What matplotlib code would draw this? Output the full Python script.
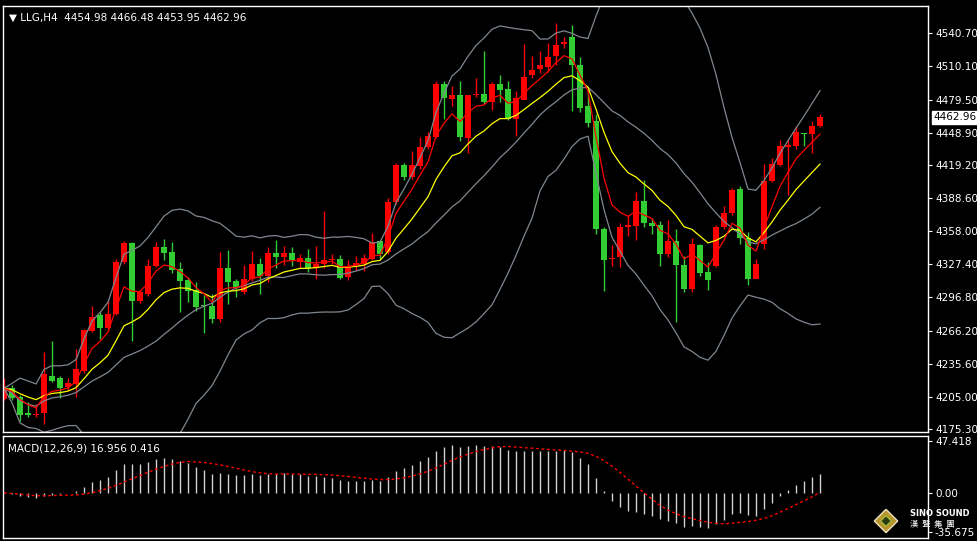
import numpy as np
import pandas as pd
import matplotlib
matplotlib.use("Agg")
import matplotlib.pyplot as plt
from matplotlib.patches import Polygon

# Свечи LLG H4: open, high, low, close
opens = [4203, 4213, 4205, 4190, 4188, 4190, 4224, 4222, 4214, 4217,
         4229, 4266, 4281, 4269, 4282, 4330, 4347, 4294, 4300, 4326,
         4343, 4339, 4323, 4313, 4304, 4290, 4289, 4277, 4324, 4312,
         4302, 4314, 4328, 4317, 4338, 4334, 4338, 4330, 4333, 4324,
         4328, 4331, 4332, 4316, 4327, 4328, 4332, 4349, 4339, 4385,
         4419, 4408, 4418, 4436, 4445, 4494, 4480, 4484, 4444, 4484,
         4485, 4477, 4494, 4489, 4462, 4479, 4502, 4508, 4510, 4520,
         4531, 4537, 4511, 4474, 4460, 4360, 4332, 4334, 4362, 4363,
         4386, 4366, 4364, 4337, 4349, 4327, 4305, 4345, 4320, 4326,
         4362, 4375, 4397, 4352, 4314, 4346, 4404, 4419, 4436, 4437,
         4449, 4448, 4454.98]
closes = [4213, 4204, 4188, 4188, 4189, 4226, 4220, 4213, 4218, 4231,
          4267, 4279, 4269, 4282, 4330, 4347, 4294, 4302, 4326, 4343,
          4338, 4322, 4312, 4303, 4288, 4289, 4277, 4324, 4311, 4306,
          4314, 4328, 4317, 4338, 4334, 4338, 4331, 4333, 4324, 4328,
          4331, 4332, 4315, 4326, 4329, 4333, 4348, 4337, 4385, 4419,
          4408, 4419, 4436, 4446, 4494, 4481, 4484, 4445, 4484, 4485,
          4477, 4494, 4488, 4462, 4481, 4500, 4507, 4511, 4519, 4530,
          4533, 4511, 4472, 4458, 4360, 4331, 4333, 4362, 4364, 4386,
          4366, 4363, 4337, 4349, 4327, 4305, 4346, 4319, 4313, 4362,
          4375, 4396, 4352, 4314, 4328, 4404, 4420, 4437, 4438, 4450,
          4448, 4455, 4462.96]
highs = [4222, 4216, 4207, 4200, 4198, 4246, 4257, 4224, 4222, 4249,
         4268, 4289, 4283, 4294, 4332, 4349, 4348, 4304, 4332, 4348,
         4351, 4348, 4330, 4316, 4311, 4299, 4300, 4339, 4341, 4314,
         4327, 4340, 4333, 4343, 4350, 4344, 4343, 4337, 4342, 4344,
         4377, 4337, 4336, 4331, 4335, 4337, 4356, 4350, 4389, 4421,
         4421, 4432, 4445, 4450, 4497, 4497, 4492, 4497, 4484, 4499,
         4524, 4496, 4502, 4497, 4487, 4531, 4520, 4524, 4532, 4550,
         4537, 4548, 4519, 4489, 4466, 4362, 4345, 4366, 4373, 4394,
         4405, 4370, 4367, 4368, 4360, 4335, 4352, 4346, 4330, 4364,
         4381, 4398, 4400, 4357, 4332, 4420, 4426, 4442, 4442, 4455,
         4449, 4460, 4466.48]
lows = [4202, 4202, 4183, 4186, 4186, 4180, 4219, 4204, 4211, 4205,
        4227, 4265, 4258, 4266, 4281, 4328, 4257, 4292, 4298, 4325,
        4331, 4319, 4283, 4293, 4284, 4264, 4273, 4274, 4291, 4297,
        4300, 4312, 4300, 4311, 4324, 4327, 4326, 4324, 4320, 4314,
        4324, 4328, 4314, 4313, 4321, 4321, 4331, 4332, 4337, 4383,
        4405, 4406, 4415, 4434, 4444, 4462, 4474, 4441, 4430, 4482,
        4475, 4470, 4477, 4461, 4446, 4498, 4499, 4504, 4505, 4511,
        4527, 4469, 4468, 4454, 4355, 4303, 4326, 4325, 4354, 4350,
        4362, 4355, 4326, 4334, 4274, 4302, 4302, 4317, 4304, 4325,
        4360, 4373, 4346, 4308, 4326, 4342, 4403, 4418, 4391, 4434,
        4437, 4430, 4453.95]

price_ticks = [4540.70, 4510.10, 4479.50, 4448.90, 4419.20, 4388.60, 4358.00,
               4327.40, 4296.80, 4266.20, 4235.60, 4205.00, 4175.30]
macd_ticks = [47.418, 0.00, -35.675]
macd_last = (16.956, 0.416)

BG = "black"
UP = "#ff0000"
DOWN = "#32cd32"
BAND = "#7f8790"

n = len(closes)
idx = np.arange(n)
c = pd.Series(closes, dtype=float)

# индикаторы
mid = c.rolling(20, min_periods=1).mean()
std = c.rolling(20, min_periods=1).std(ddof=0)
upper = mid + 2 * std
lower = mid - 2 * std
ma_fast = c.ewm(span=5, adjust=False).mean()
ma_slow = c.ewm(span=12, adjust=False).mean()
macd = c.ewm(span=12, adjust=False).mean() - c.ewm(span=26, adjust=False).mean()
signal = macd.rolling(9, min_periods=1).mean()

fig = plt.figure(figsize=(9.77, 5.41), dpi=100, facecolor=BG)
ax = fig.add_axes([3 / 977, 1 - 432 / 541, 925 / 977, 426 / 541], facecolor=BG)
ax2 = fig.add_axes([3 / 977, 3 / 541, 925 / 977, 102 / 541], facecolor=BG)

for a in (ax, ax2):
    for s in a.spines.values():
        s.set_color("white")
        s.set_linewidth(1)
    a.set_xlim(-0.125, 115.5)
    a.set_xticks([])
    a.yaxis.tick_right()
    a.tick_params(axis="y", colors="white", labelsize=7.5, length=3, pad=2)

# свечи
for i in range(n):
    col = UP if closes[i] >= opens[i] else DOWN
    ax.vlines(i, lows[i], highs[i], color=col, lw=1)
    lo, hi = sorted((opens[i], closes[i]))
    ax.bar(i, max(hi - lo, 0.6), bottom=lo, width=0.75, color=col, linewidth=0)

ax.plot(idx, upper, color=BAND, lw=0.9)
ax.plot(idx, mid, color=BAND, lw=0.9)
ax.plot(idx, lower, color=BAND, lw=0.9)
ax.plot(idx, ma_slow, color="yellow", lw=0.9)
ax.plot(idx, ma_fast, color="red", lw=0.9)

ax.set_ylim(4172.6, 4565.9)
ax.set_yticks(price_ticks)
ax.set_yticklabels([f"{t:.2f}" for t in price_ticks])

last = closes[-1]
ax.annotate(f"{last:.2f}", xy=(1.0, last), xycoords=("axes fraction", "data"),
            xytext=(4, 0), textcoords="offset points", va="center", ha="left",
            fontsize=7.5, color="black",
            bbox=dict(boxstyle="square,pad=0.15", fc="white", ec="white"))

ax.text(0.006, 0.985, "▼ LLG,H4  4454.98 4466.48 4453.95 4462.96",
        transform=ax.transAxes, color="white", fontsize=7.5, va="top", ha="left")

# MACD
ax2.vlines(idx, 0, macd, color="#d0d0d0", lw=1)
ax2.plot(idx, signal, color="red", lw=1, ls=(0, (2, 2)))
ax2.set_ylim(-41, 52)
ax2.set_yticks(macd_ticks)
ax2.set_yticklabels(["47.418", "0.00", "-35.675"])
ax2.text(0.005, 0.93, f"MACD(12,26,9) {macd_last[0]:.3f} {macd_last[1]:.3f}",
         transform=ax2.transAxes, color="white", fontsize=7.5, va="top", ha="left")

# водяной знак
cx, cy = 886 / 977, 20 / 541
d = 0.012
diamond = Polygon([(cx, cy + d * 1.8), (cx + d, cy), (cx, cy - d * 1.8), (cx - d, cy)],
                  closed=True, transform=fig.transFigure, fc="#b8962e", ec="#e8e0c0", lw=1)
fig.patches.append(diamond)
inner = Polygon([(cx, cy + d * 0.8), (cx + d * 0.45, cy), (cx, cy - d * 0.8), (cx - d * 0.45, cy)],
                closed=True, transform=fig.transFigure, fc="#2c3a10", ec="#a0c040", lw=0.8)
fig.patches.append(inner)
fig.text(910 / 977, 27 / 541, "SINO SOUND", color="white", fontsize=6, fontweight="bold",
         va="center", ha="left")
fig.text(910 / 977, 16 / 541, "漢  聲  集  團", color="white", fontsize=6,
         va="center", ha="left", family=["Noto Sans CJK TC", "DejaVu Sans"])

fig.savefig("out.png", dpi=100, facecolor=BG)
